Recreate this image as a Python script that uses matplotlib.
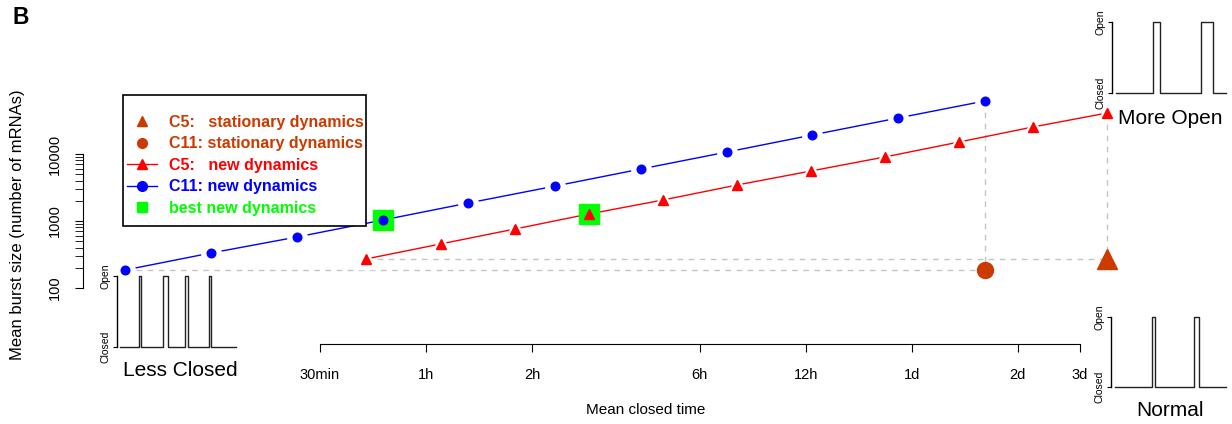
import numpy as np
import matplotlib
matplotlib.use('Agg')
import matplotlib.pyplot as plt
from matplotlib.lines import Line2D
from matplotlib.patches import Rectangle
from matplotlib.ticker import FixedLocator, NullFormatter

plt.rcParams['font.family'] = ['Liberation Sans', 'DejaVu Sans']

# mean closed time (hours) and mean burst size
c11_time = [0.140, 0.245, 0.430, 0.755, 1.32, 2.33, 4.08, 7.16, 12.5, 21.9, 38.7]
c11_burst = [186, 333, 577, 1035, 1857, 3327, 5970, 10700, 19200, 34400, 61800]
c5_time = [0.675, 1.10, 1.79, 2.90, 4.71, 7.65, 12.4, 20.1, 32.7, 53.0, 86.1]
c5_burst = [271, 454, 760, 1271, 2057, 3443, 5575, 9020, 15100, 25300, 40900]
best_idx = [3, 3]  # index in c11, index in c5

# stationary dynamics
c5_stat = (86.1, 271)
c11_stat = (38.7, 186)

xticks = [0.5, 1, 2, 6, 12, 24, 48, 72]
xticklabels = ['30min', '1h', '2h', '6h', '12h', '1d', '2d', '3d']

# pulse traces (start, end of open periods) for the three insets
less_closed = [(22, 24), (46, 51), (68, 71), (92, 94)]
more_open = [(41, 48), (89, 101)]
normal = [(41, 43.5), (83, 88)]

blue = '#0000FF'
red = '#FF0000'
green = '#00FF00'
stat = '#CD3A00'
W, H = 1232, 424


def px_axes(fig, x0, y0, x1, y1):
    # x0, y0 top-left, x1, y1 bottom-right in pixels
    return fig.add_axes([x0 / W, 1 - y1 / H, (x1 - x0) / W, (y1 - y0) / H])


fig = plt.figure(figsize=(W / 100, H / 100), dpi=100)
ax = px_axes(fig, 83, 90, 1120, 344)
ax.set_xscale('log')
ax.set_yscale('log')
ax.set_xlim(0.1061, 93.7)
ax.set_ylim(14.6, 90200)
ax.patch.set_alpha(0)

# dashed guides
gkw = dict(ls=(0, (4, 4)), color='#C4C4C4', lw=1, zorder=1)
ax.plot([c11_time[0], c11_stat[0]], [c11_burst[0], c11_stat[1]], **gkw)
ax.plot([c11_time[-1], c11_stat[0]], [c11_burst[-1], c11_stat[1]], **gkw)
ax.plot([c5_time[0], c5_stat[0]], [c5_burst[0], c5_stat[1]], **gkw)
ax.plot([c5_time[-1], c5_stat[0]], [c5_burst[-1], c5_stat[1]], **gkw)

# lines with gaps round the points (like R type="b")
ax.plot(c11_time, c11_burst, color=blue, lw=1, zorder=2)
ax.plot(c5_time, c5_burst, color=red, lw=1, zorder=2)
ax.plot(c11_time, c11_burst, 'o', ms=14, color='white', zorder=3)
ax.plot(c5_time, c5_burst, '^', ms=15, color='white', zorder=3)

ax.plot(c11_time[best_idx[0]], c11_burst[best_idx[0]], 's', ms=15, color=green, zorder=4)
ax.plot(c5_time[best_idx[1]], c5_burst[best_idx[1]], 's', ms=15, color=green, zorder=4)

ax.plot(c11_time, c11_burst, 'o', ms=6.2, color=blue, zorder=5)
ax.plot(c5_time, c5_burst, '^', ms=7, color=red, zorder=5)

ax.plot(*c5_stat, '^', ms=14, color=stat, zorder=5, clip_on=False)
ax.plot(*c11_stat, 'o', ms=11.5, color=stat, zorder=5, clip_on=False)

# axes like R
for s in ['top', 'right']:
    ax.spines[s].set_visible(False)
ax.spines['left'].set_bounds(100, 10000)
ax.spines['bottom'].set_bounds(0.5, 72)
ax.xaxis.set_major_locator(FixedLocator(xticks))
ax.set_xticklabels(xticklabels, fontsize=10.5)
ax.xaxis.set_minor_locator(FixedLocator([]))
ax.tick_params(axis='x', length=6, pad=11)
ax.yaxis.set_major_locator(FixedLocator([100, 1000, 10000]))
ax.yaxis.set_minor_locator(FixedLocator([m * 10 ** k for k in (2, 3) for m in range(2, 10)]))
ax.yaxis.set_minor_formatter(NullFormatter())
ax.set_yticklabels(['100', '1000', '10000'], rotation=90, va='center', fontsize=10.5)
ax.tick_params(axis='y', which='both', length=6, pad=9)

fig.text(646 / W, 1 - 410 / H, 'Mean closed time', ha='center', va='center', fontsize=11)
fig.text(18 / W, 1 - 225 / H, 'Mean burst size (number of mRNAs)', ha='center', va='center',
         rotation=90, fontsize=12)
fig.text(12 / W, 1 - 17 / H, 'B', ha='left', va='center', fontsize=16.5, fontweight='bold')

# legend
handles = [
    Line2D([], [], ls='none', marker='^', ms=7.5, color=stat),
    Line2D([], [], ls='none', marker='o', ms=7, color=stat),
    Line2D([], [], color=red, lw=1, marker='^', ms=7.5),
    Line2D([], [], color=blue, lw=1, marker='o', ms=7),
    Line2D([], [], ls='none', marker='s', ms=6.5, color=green),
]
labels = ['C5:   stationary dynamics', 'C11: stationary dynamics', 'C5:   new dynamics',
          'C11: new dynamics', 'best new dynamics']
leg = fig.legend(handles, labels, loc='upper left', bbox_to_anchor=(127 / W, 1 - 115 / H),
                 frameon=False, labelcolor=[stat, stat, red, blue, green],
                 prop={'weight': 'bold', 'size': 11.5},
                 handlelength=1.9, borderpad=0, labelspacing=0.4, handletextpad=0.75,
                 borderaxespad=0)
leg.set_zorder(10)
fig.patches.append(Rectangle((123 / W, 1 - 226 / H), (366 - 123) / W, (226 - 95) / H,
                             transform=fig.transFigure, facecolor='white', edgecolor='black',
                             lw=1.2, zorder=9))


def pulse_trace(pulses, start, end):
    xs, ys = [start], [0]
    for a, b in pulses:
        xs += [a, a, b, b]
        ys += [0, 1, 1, 0]
    xs.append(end)
    ys.append(0)
    return xs, ys


def inset(x0, yopen, yclosed, width, pulses, start, end, label, lx, ly):
    a = px_axes(fig, x0, yopen, x0 + width, yclosed)
    xs, ys = pulse_trace(pulses, start, end)
    a.plot(xs, ys, color='#222222', lw=1, clip_on=False)
    a.set_xlim(0, width)
    a.set_ylim(0, 1)
    for s in ['top', 'right', 'bottom']:
        a.spines[s].set_visible(False)
    a.spines['left'].set_linewidth(1)
    a.set_xticks([])
    a.set_yticks([0, 1])
    a.set_yticklabels(['Closed', 'Open'], rotation=90, va='center', fontsize=7.5)
    a.tick_params(axis='y', length=3, pad=2)
    a.patch.set_alpha(0)
    fig.text(lx / W, 1 - ly / H, label, ha='center', va='center', fontsize=15)


inset(117, 276, 347, 120, less_closed, 3, 119, 'Less Closed', 180, 371)
inset(1112, 22, 93, 116, more_open, 4, 114, 'More Open', 1170, 118)
inset(1111, 317, 387, 117, normal, 4, 115, 'Normal', 1170, 410)

fig.savefig('out.png', dpi=100)
